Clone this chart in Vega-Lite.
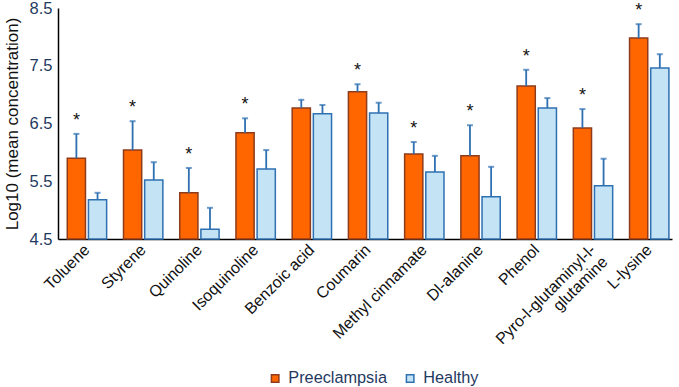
{
  "$schema": "https://vega.github.io/schema/vega-lite/v6.json",
  "width": 614,
  "height": 231,
  "padding": {"left": 3, "top": 0, "right": 6, "bottom": 0},
  "background": "white",
  "config": {
    "font": "Liberation Sans",
    "view": {"stroke": null}
  },
  "data": {
    "values": [
      {"compound": "Toluene", "group": "Preeclampsia", "value": 5.90, "err": 6.32, "sig": 1},
      {"compound": "Toluene", "group": "Healthy", "value": 5.18, "err": 5.30, "sig": 0},
      {"compound": "Styrene", "group": "Preeclampsia", "value": 6.04, "err": 6.54, "sig": 1},
      {"compound": "Styrene", "group": "Healthy", "value": 5.52, "err": 5.83, "sig": 0},
      {"compound": "Quinoline", "group": "Preeclampsia", "value": 5.30, "err": 5.73, "sig": 1},
      {"compound": "Quinoline", "group": "Healthy", "value": 4.67, "err": 5.04, "sig": 0},
      {"compound": "Isoquinoline", "group": "Preeclampsia", "value": 6.34, "err": 6.59, "sig": 1},
      {"compound": "Isoquinoline", "group": "Healthy", "value": 5.71, "err": 6.04, "sig": 0},
      {"compound": "Benzoic acid", "group": "Preeclampsia", "value": 6.77, "err": 6.91, "sig": 0},
      {"compound": "Benzoic acid", "group": "Healthy", "value": 6.67, "err": 6.82, "sig": 0},
      {"compound": "Coumarin", "group": "Preeclampsia", "value": 7.05, "err": 7.18, "sig": 1},
      {"compound": "Coumarin", "group": "Healthy", "value": 6.68, "err": 6.86, "sig": 0},
      {"compound": "Methyl cinnamate", "group": "Preeclampsia", "value": 5.97, "err": 6.18, "sig": 1},
      {"compound": "Methyl cinnamate", "group": "Healthy", "value": 5.66, "err": 5.94, "sig": 0},
      {"compound": "Dl-alanine", "group": "Preeclampsia", "value": 5.94, "err": 6.47, "sig": 1},
      {"compound": "Dl-alanine", "group": "Healthy", "value": 5.23, "err": 5.75, "sig": 0},
      {"compound": "Phenol", "group": "Preeclampsia", "value": 7.15, "err": 7.43, "sig": 1},
      {"compound": "Phenol", "group": "Healthy", "value": 6.77, "err": 6.94, "sig": 0},
      {"compound": "Pyro-l-glutaminyl-l-glutamine", "group": "Preeclampsia", "value": 6.42, "err": 6.75, "sig": 1},
      {"compound": "Pyro-l-glutaminyl-l-glutamine", "group": "Healthy", "value": 5.42, "err": 5.89, "sig": 0},
      {"compound": "L-lysine", "group": "Preeclampsia", "value": 7.98, "err": 8.22, "sig": 1},
      {"compound": "L-lysine", "group": "Healthy", "value": 7.46, "err": 7.70, "sig": 0}
    ]
  },
  "encoding": {
    "x": {
      "field": "compound",
      "type": "nominal",
      "sort": null,
      "scale": {"paddingInner": 0.3, "paddingOuter": 0.11, "align": 0.75},
      "axis": {
        "title": null,
        "labelAngle": -45,
        "labelAlign": "right",
        "labelBaseline": "middle",
        "labelFontSize": 16,
        "labelColor": "#111111",
        "labelPadding": 8,
        "labelLineHeight": 17,
        "labelExpr": "datum.label == 'Pyro-l-glutaminyl-l-glutamine' ? ['Pyro-l-glutaminyl-l-', 'glutamine'] : datum.label",
        "ticks": false,
        "domainColor": "#000000",
        "domainWidth": 1.5
      }
    },
    "xOffset": {
      "field": "group",
      "type": "nominal",
      "sort": ["Preeclampsia", "Healthy"],
      "scale": {"paddingInner": 0.14, "paddingOuter": 0}
    }
  },
  "layer": [
    {
      "mark": {"type": "bar", "strokeWidth": 1.5},
      "encoding": {
        "y": {
          "field": "value",
          "type": "quantitative",
          "scale": {"domain": [4.5, 8.5], "nice": false, "zero": false},
          "axis": {
            "title": "Log10 (mean concentration)",
            "titleFontSize": 17,
            "titleFontWeight": "normal",
            "titleColor": "#111111",
            "titlePadding": 8,
            "values": [4.5, 5.5, 6.5, 7.5, 8.5],
            "format": ".1f",
            "labelFontSize": 16.5,
            "labelColor": "#1f3a5f",
            "labelPadding": 6,
            "ticks": false,
            "grid": false,
            "domainColor": "#000000",
            "domainWidth": 1.5
          }
        },
        "y2": {"datum": 4.5},
        "fill": {
          "field": "group",
          "type": "nominal",
          "sort": ["Preeclampsia", "Healthy"],
          "scale": {"domain": ["Preeclampsia", "Healthy"], "range": ["#ff6600", "#c4e4f5"]},
          "legend": {
            "title": null,
            "orient": "none",
            "legendX": 209,
            "legendY": 362,
            "direction": "horizontal",
            "symbolType": "square",
            "symbolSize": 56,
            "symbolStrokeWidth": 1.5,
            "labelFontSize": 16.3,
            "labelColor": "#1f3a5f",
            "labelOffset": 5,
            "columnPadding": 15
          }
        },
        "stroke": {
          "field": "group",
          "type": "nominal",
          "sort": ["Preeclampsia", "Healthy"],
          "scale": {"domain": ["Preeclampsia", "Healthy"], "range": ["#8e3c1c", "#2e70b2"]},
          "legend": null
        }
      }
    },
    {
      "mark": {"type": "rule", "color": "#2e70b2", "strokeWidth": 1.8},
      "encoding": {
        "y": {"field": "value", "type": "quantitative"},
        "y2": {"field": "err"}
      }
    },
    {
      "mark": {"type": "tick", "color": "#2e70b2", "thickness": 2, "size": 6},
      "encoding": {
        "y": {"field": "err", "type": "quantitative"}
      }
    },
    {
      "transform": [{"filter": "datum.sig == 1"}],
      "mark": {"type": "text", "text": "*", "fontSize": 18, "color": "#111111", "baseline": "middle", "dy": -13},
      "encoding": {
        "y": {"field": "err", "type": "quantitative"}
      }
    }
  ]
}
